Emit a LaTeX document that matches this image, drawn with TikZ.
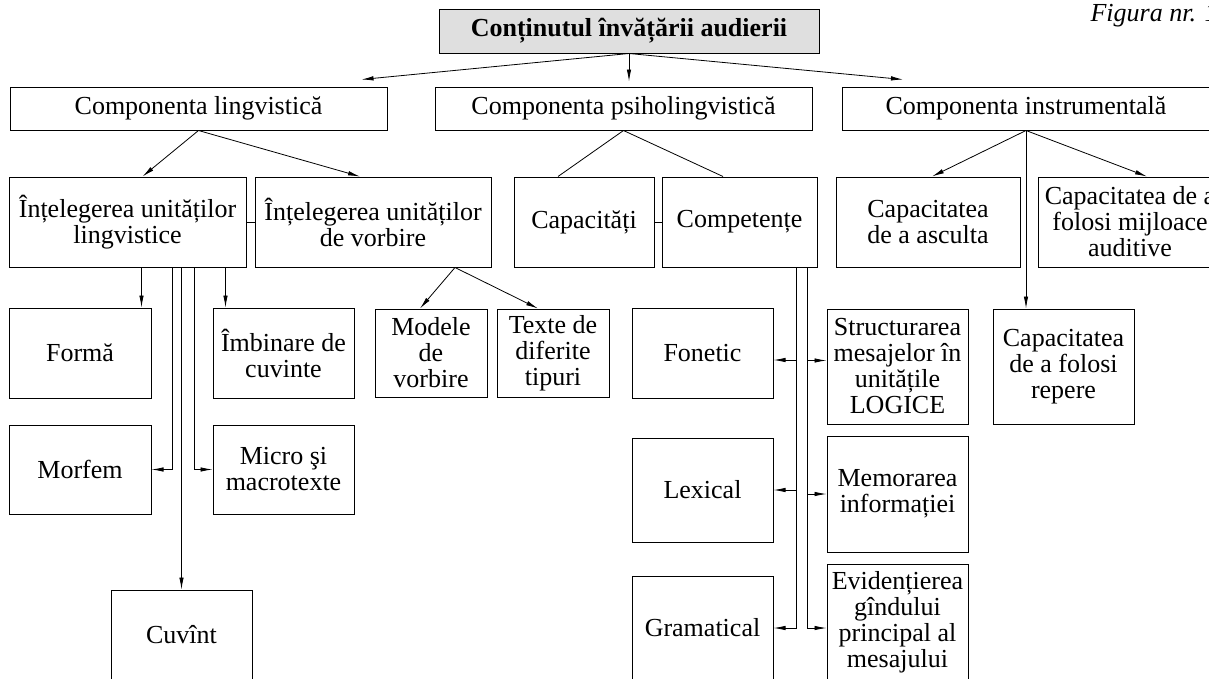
\documentclass[tikz,border=0pt]{standalone}
\usepackage{fontspec}
\setmainfont{Liberation Serif}
\usetikzlibrary{arrows.meta, positioning, calc}

\begin{document}
\begin{tikzpicture}[
    x=1pt, y=-1pt,
    font=\fontsize{26}{26}\selectfont,
    box/.style={rectangle, draw, line width=1pt, inner sep=0pt,
                text centered, align=center},
    head/.style={box, fill=gray!25, font=\fontsize{26}{26}\selectfont\bfseries},
    arr/.style={-{Latex[length=12pt,width=4.5pt]}, line width=0.8pt},
    link/.style={line width=0.8pt}
  ]
  \useasboundingbox (0,0) rectangle (1209,678);

  \node[anchor=west, font=\fontsize{26}{26}\selectfont\itshape] (fig) at (1087,16) {Figura nr. 1};

  \node[head, minimum width=380pt, minimum height=44pt] (title) at (629,31) {Conținutul învățării audierii};

  % level 1
  \node[box, minimum width=377pt, minimum height=43pt] (lingv) at (198.5,108.5) {Componenta lingvistică};
  \node[box, minimum width=377pt, minimum height=43pt] (psiho) at (623.5,108.5) {Componenta psiholingvistică};
  \node[box, minimum width=368pt, minimum height=43pt] (instr) at (1026,108.5) {Componenta instrumentală};

  % level 2
  \node[box, minimum width=237pt, minimum height=90pt] (intl)   at (127.5,222) {Înțelegerea unităților\\lingvistice};
  \node[box, minimum width=236pt, minimum height=90pt] (intv)   at (373,222)   {Înțelegerea unităților\\de vorbire};
  \node[box, minimum width=140pt, minimum height=90pt] (capac)  at (584,222)   {Capacități};
  \node[box, minimum width=155pt, minimum height=90pt] (compet) at (739.5,222) {Competențe};
  \node[box, minimum width=184pt, minimum height=90pt] (ascult) at (928,222)   {Capacitatea\\de a asculta};
  \node[box, minimum width=184pt, minimum height=90pt] (mijl)   at (1130,222)  {Capacitatea de a\\folosi mijloace\\auditive};

  % level 3
  \node[box, minimum width=142pt, minimum height=90pt]  (forma)   at (80,353)     {Formă};
  \node[box, minimum width=141pt, minimum height=90pt]  (imbin)   at (283.5,353)  {Îmbinare de\\cuvinte};
  \node[box, minimum width=112pt, minimum height=88pt]  (modele)  at (431,353)    {Modele\\de\\vorbire};
  \node[box, minimum width=112pt, minimum height=88pt]  (texte)   at (553,353)    {Texte de\\diferite\\tipuri};
  \node[box, minimum width=141pt, minimum height=90pt]  (fonetic) at (702.5,353)  {Fonetic};
  \node[box, minimum width=141pt, minimum height=115pt] (struct)  at (897.5,366.5) {Structurarea\\mesajelor în\\unitățile\\LOGICE};
  \node[box, minimum width=141pt, minimum height=115pt] (repere)  at (1063.5,366.5) {Capacitatea\\de a folosi\\repere};

  \node[box, minimum width=142pt, minimum height=89pt]  (morfem)  at (80,469.5)   {Morfem};
  \node[box, minimum width=141pt, minimum height=89pt]  (micro)   at (283.5,469.5) {Micro şi\\macrotexte};
  \node[box, minimum width=141pt, minimum height=104pt] (lexical) at (702.5,490)  {Lexical};
  \node[box, minimum width=141pt, minimum height=116pt] (memor)   at (897.5,494)  {Memorarea\\informației};

  \node[box, minimum width=141pt, minimum height=90pt]  (cuvint)  at (181.5,635)  {Cuvînt};
  \node[box, minimum width=141pt, minimum height=104pt] (gramat)  at (702.5,628)  {Gramatical};
  \node[box, minimum width=141pt, minimum height=116pt] (evid)    at (897.5,622)  {Evidențierea\\gîndului\\principal al\\mesajului};

  % from the title
  \draw[arr] (title.south) -- ($(lingv.north)+(163,-7)$);
  \draw[arr, shorten >=5pt] (title.south) -- (title.south |- psiho.north);
  \draw[arr] (title.south) -- ($(instr.north)+(-123,-7)$);

  % lingvistica
  \draw[arr] (lingv.south) -- ($(intl.north)+(15,0)$);
  \draw[arr] (lingv.south) -- ($(intv.north)+(-13,0)$);
  \draw[link] (intl) -- (intv);

  \draw[arr] ([xshift=-10pt]forma.north east |- intl.south) -- ([xshift=-10pt]forma.north east);
  \draw[arr] ([xshift=21pt]morfem.east |- intl.south) |- (morfem.east);
  \draw[arr] (intl.south -| cuvint.north) -- (cuvint.north);
  \draw[arr] ([xshift=-18pt]micro.west |- intl.south) |- (micro.west);
  \draw[arr] ([xshift=13pt]imbin.north west |- intl.south) -- ([xshift=13pt]imbin.north west);

  \draw[arr] ($(intv.south)+(82,0)$) -- ($(modele.north)+(-11,0)$);
  \draw[arr] ($(intv.south)+(82,0)$) -- ($(texte.north)+(-15,0)$);

  % psiholingvistica
  \draw[link] (psiho.south) -- ($(capac.north)+(-26,0)$);
  \draw[link] (psiho.south) -- ($(compet.north)+(-16.5,0)$);
  \draw[link] (capac) -- (compet);

  \draw[arr] ([xshift=-21pt]compet.south east) |- ([yshift=-7pt]fonetic.east);
  \draw[arr] ([xshift=-21pt]compet.south east) |- (lexical.east);
  \draw[arr] ([xshift=-21pt]compet.south east) |- (gramat.east);
  \draw[arr] ([xshift=-10pt]compet.south east) |- ([yshift=6pt]struct.west);
  \draw[arr] ([xshift=-10pt]compet.south east) |- (memor.west);
  \draw[arr] ([xshift=-10pt]compet.south east) |- ([yshift=-6pt]evid.west);

  % instrumentala
  \draw[arr] (instr.south) -- ($(ascult.north)+(4,0)$);
  \draw[arr] (instr.south) -- ($(mijl.north)+(17,0)$);
  \draw[arr] (instr.south) -- (instr.south |- repere.north);

\end{tikzpicture}
\end{document}
